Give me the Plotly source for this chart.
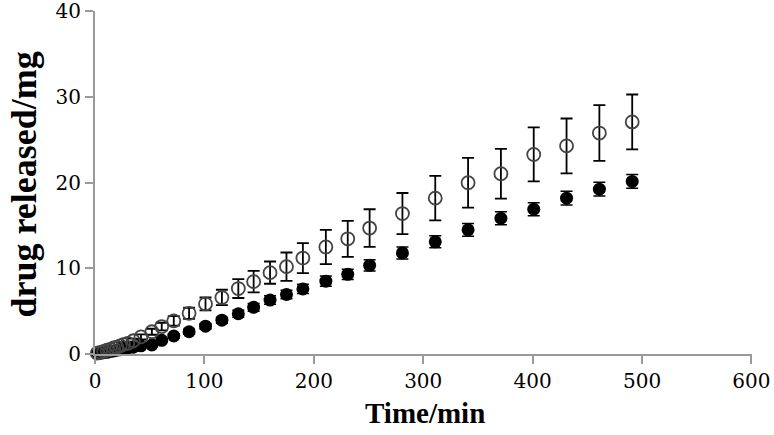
import plotly.graph_objects as go

time_min = [2, 5, 8, 11, 14, 17, 20, 23, 26, 30, 35, 42, 52, 61, 72, 86, 101, 116, 131, 145,
            160, 175, 190, 211, 231, 251, 281, 311, 341, 371, 401, 431, 461, 491]

open_mean = [0.1, 0.2, 0.3, 0.45, 0.55, 0.7, 0.8, 0.95, 1.1, 1.25, 1.55, 2.0, 2.6, 3.2, 3.87, 4.75,
             5.85, 6.6, 7.64, 8.45, 9.5, 10.2, 11.2, 12.5, 13.45, 14.7, 16.4, 18.2, 20.0, 21.05,
             23.3, 24.3, 25.8, 27.1]
open_sd = [0.05, 0.05, 0.08, 0.1, 0.1, 0.12, 0.15, 0.15, 0.2, 0.2, 0.25, 0.3, 0.35, 0.45, 0.55, 0.65,
           0.75, 0.9, 1.1, 1.25, 1.3, 1.65, 1.75, 2.0, 2.1, 2.2, 2.4, 2.6, 2.9, 2.9,
           3.15, 3.2, 3.25, 3.2]

filled_mean = [0.05, 0.1, 0.15, 0.2, 0.3, 0.35, 0.45, 0.5, 0.6, 0.7, 0.8, 0.95, 1.05, 1.6, 2.1, 2.6,
               3.25, 3.95, 4.7, 5.45, 6.3, 6.95, 7.6, 8.5, 9.3, 10.35, 11.8, 13.1, 14.5, 15.85,
               16.9, 18.2, 19.25, 20.15]
filled_sd = [0.05, 0.05, 0.05, 0.05, 0.05, 0.05, 0.1, 0.1, 0.1, 0.1, 0.15, 0.15, 0.2, 0.2, 0.25, 0.3,
             0.3, 0.35, 0.4, 0.45, 0.5, 0.5, 0.55, 0.6, 0.6, 0.65, 0.7, 0.7, 0.75, 0.75,
             0.75, 0.8, 0.8, 0.8]

x_ticks = [0, 100, 200, 300, 400, 500, 600]
y_ticks = [0, 10, 20, 30, 40]
x_title = "Time/min"
y_title = "drug released/mg"

fig = go.Figure()
fig.add_trace(go.Scatter(
    x=time_min, y=filled_mean, mode="markers",
    marker=dict(symbol="circle", size=13, color="black"),
    error_y=dict(type="data", array=filled_sd, visible=True, color="black", thickness=1.5, width=6),
    cliponaxis=False, showlegend=False))
fig.add_trace(go.Scatter(
    x=time_min, y=open_mean, mode="markers",
    marker=dict(symbol="circle-open", size=13, color="#444444", line=dict(width=1.8, color="#444444")),
    error_y=dict(type="data", array=open_sd, visible=True, color="black", thickness=1.8, width=6),
    cliponaxis=False, showlegend=False))

axis_common = dict(showgrid=False, zeroline=False, showline=True, linecolor="#9a9a9a", linewidth=2,
                   ticks="outside", ticklen=8, tickwidth=2, tickcolor="#9a9a9a", automargin=False,
                   ticklabeloverflow="allow",
                   tickfont=dict(family="DejaVu Serif", size=20, color="black"))

fig.update_xaxes(range=[0, 600.5], tickvals=x_ticks, **axis_common)
fig.update_yaxes(range=[0, 40.05], tickvals=y_ticks, **axis_common)

fig.add_annotation(text="<b>" + x_title + "</b>", xref="paper", yref="paper",
                   x=(425 - 95) / (752 - 95), y=-(413 - 354) / (354 - 10),
                   xanchor="center", yanchor="middle", showarrow=False,
                   font=dict(family="Liberation Serif", size=29, color="black"))
fig.add_annotation(text="<b>" + y_title + "</b>", xref="paper", yref="paper",
                   x=-(95 - 24) / (752 - 95), y=(354 - 184) / (354 - 10), textangle=-90,
                   xanchor="center", yanchor="middle", showarrow=False,
                   font=dict(family="Liberation Serif", size=36, color="black"))

fig.update_layout(width=774, height=435, margin=dict(l=95, r=22, t=11, b=81),
                  plot_bgcolor="white", paper_bgcolor="white")

fig.write_html("out.html", config={"displayModeBar": False},
               post_script="document.body.style.margin='0';document.body.style.overflow='hidden';")
